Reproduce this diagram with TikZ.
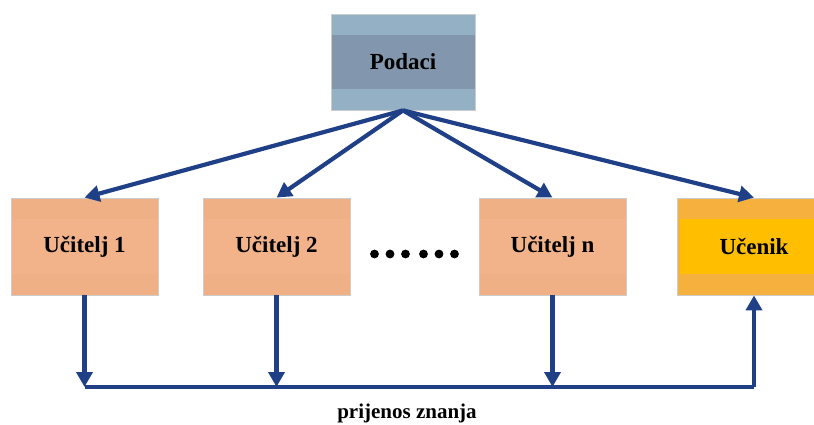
\documentclass[tikz,border=0pt]{standalone}
\usepackage{xcolor}
\usepackage{fontspec}
\setmainfont{Liberation Serif}
\usepackage{tikz}
\usetikzlibrary{arrows.meta,calc}
\definecolor{linkC}{rgb}{0.12,0.25,0.53}
\definecolor{dataC}{rgb}{0.58,0.69,0.77}
\definecolor{dataInC}{rgb}{0.51,0.59,0.68}
\definecolor{teachC}{rgb}{0.94,0.69,0.52}
\definecolor{teachInC}{rgb}{0.95,0.70,0.54}
\definecolor{studC}{rgb}{0.96,0.69,0.24}
\definecolor{studInC}{rgb}{1,0.75,0}
\tikzset{
  box/.style={draw=black!20,line width=0.8pt,minimum width=147pt,minimum height=97pt,inner sep=0pt,
    font=\fontsize{23}{26}\selectfont\bfseries},
  band/.style 2 args={path picture={\fill[#1] ([xshift=#2,yshift=-21pt]path picture bounding box.north west)
    rectangle ([xshift=-#2,yshift=21pt]path picture bounding box.south east);}},
  link/.style={draw=linkC,line width=4.2pt,-{Triangle[width=16pt,length=15pt]}}
}
\begin{document}
\begin{tikzpicture}[x=1pt,y=-1pt]
        \clip (0,0) rectangle (814,425);
        \node[box,fill=dataC,band={dataInC}{0pt},minimum width=144pt,minimum height=96pt] (podaci) at (403,62) {Podaci};
        \node[box,fill=teachC,band={teachInC}{0pt}] (u1) at (84.5,246.5) {Učitelj 1};
        \node[box,fill=teachC,band={teachInC}{0pt}] (u2) at (276.5,246.5) {Učitelj 2};
        \node[box,fill=teachC,band={teachInC}{0pt}] (un) at (552.5,246.5) {Učitelj n};
        \node[box,fill=studC,band={studInC}{3pt},minimum width=154pt] (ucenik) at (754,246.5) {Učenik};
        \foreach \x in {374.5,390,405.5,423.5,439,454.5}
          \fill (\x,254) circle (4.4);
        \coordinate (bus) at (0,387);
        \node[font=\fontsize{21}{24}\selectfont\bfseries] (prijenos) at (407,413) {prijenos znanja};
        % od podataka prema modelima
        \foreach \n in {u1,u2,un,ucenik}
          \draw[link] (podaci.south) -- (\n.north);
        % prijenos znanja
        \foreach \n in {u1,u2,un}
          \draw[link] (\n.south) -- (\n.south |- bus);
        \draw[draw=linkC,line width=4.2pt] (u1.south |- bus) -- (ucenik.south |- bus);
        \draw[link] (ucenik.south |- bus) -- (ucenik.south);
\end{tikzpicture}
\end{document}
